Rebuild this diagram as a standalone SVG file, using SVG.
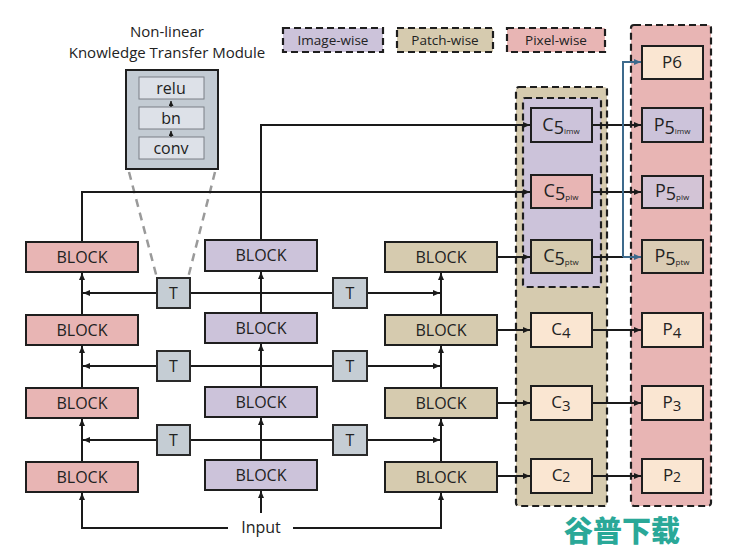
<svg xmlns="http://www.w3.org/2000/svg" width="740" height="552" viewBox="0 0 740 552">
<defs>
<marker id="ah" markerUnits="userSpaceOnUse" markerWidth="8" markerHeight="7" refX="7" refY="3" orient="auto"><path d="M0,0 L7,3 L0,6 z" fill="#1a1a1a"/></marker>
<marker id="ahb" markerUnits="userSpaceOnUse" markerWidth="8" markerHeight="7" refX="7" refY="3" orient="auto"><path d="M0,0 L7,3 L0,6 z" fill="#3d6a8c"/></marker>
<marker id="ahs" markerUnits="userSpaceOnUse" markerWidth="6" markerHeight="6" refX="5" refY="2.5" orient="auto"><path d="M0,0 L5,2.5 L0,5 z" fill="#1a1a1a"/></marker>
</defs>
<style>
text{font-family:"Open Sans","Noto Sans","Liberation Sans",sans-serif;fill:#222;}
.lbl{font-size:15px;text-anchor:middle;}
.blk{font-size:16px;text-anchor:middle;}
.box{stroke:#1e1e1e;stroke-width:2;}
.pink{fill:#e8b5b4;}
.lav{fill:#ccc3da;}
.tan{fill:#d6cbaf;}
.cream{fill:#fae6d2;}
.tb{fill:#c5cdd4;stroke:#2a2a2a;stroke-width:2;}
.dash{stroke:#1e1e1e;stroke-width:2.2;stroke-dasharray:7 4;}
.ln{fill:none;stroke:#1a1a1a;stroke-width:2;}
.ar{marker-end:url(#ah);}
.blue{fill:none;stroke:#3d6a8c;stroke-width:2;marker-end:url(#ahb);}
.sub{font-size:8px;}
</style>

<!-- legend -->
<g id="legend">
<rect x="283" y="28" width="100" height="24" class="lav dash"/>
<text x="333" y="45" class="lbl" style="font-size:13.5px">Image-wise</text>
<rect x="397" y="28" width="96" height="24" class="tan dash"/>
<text x="445" y="45" class="lbl" style="font-size:13.5px">Patch-wise</text>
<rect x="507" y="28" width="98" height="24" class="pink dash"/>
<text x="556" y="45" class="lbl" style="font-size:13.5px">Pixel-wise</text>
</g>

<!-- module -->
<g id="module">
<text x="167" y="37" class="lbl">Non-linear</text>
<text x="167" y="58" class="lbl">Knowledge Transfer Module</text>
<rect x="126" y="70" width="92" height="99" fill="#c3cbd3" stroke="#1e1e1e" stroke-width="2"/>
<rect x="139" y="77" width="65" height="22" fill="#dde1e8" stroke="#7a7f86" stroke-width="1"/>
<text x="171" y="94" class="blk">relu</text>
<rect x="139" y="107" width="65" height="22" fill="#dde1e8" stroke="#7a7f86" stroke-width="1"/>
<text x="171" y="124" class="blk">bn</text>
<rect x="139" y="137" width="65" height="22" fill="#dde1e8" stroke="#7a7f86" stroke-width="1"/>
<text x="171" y="154" class="blk">conv</text>
<path d="M171 137 V131" fill="none" stroke="#1a1a1a" stroke-width="1.3" marker-end="url(#ahs)"/>
<path d="M171 107 V101" fill="none" stroke="#1a1a1a" stroke-width="1.3" marker-end="url(#ahs)"/>
<path d="M129 172 L157 278 M215 172 L188 278" fill="none" stroke="#9a9a9a" stroke-width="2.5" stroke-dasharray="8 6"/>
</g>

<!-- panels -->
<g id="patch-panel"><rect x="516" y="87" width="91" height="419" rx="3" class="tan dash"/></g>
<g id="image-panel"><rect x="523" y="98" width="78" height="189" rx="2" class="lav dash"/></g>
<g id="pixel-panel"><rect x="631" y="25" width="80" height="481" rx="3" class="pink dash"/></g>

<!-- connectors -->
<g id="connectors">
<path class="ln ar" d="M228 528 H82 V493"/>
<path class="ln ar" d="M82 462 V419"/>
<path class="ln ar" d="M82 388 V346"/>
<path class="ln ar" d="M82 315 V273"/>
<path class="ln ar" d="M82 242 V192 H530"/>
<path class="ln ar" d="M261 513 V491"/>
<path class="ln ar" d="M261 460 V418"/>
<path class="ln ar" d="M261 387 V344"/>
<path class="ln ar" d="M261 314 V272"/>
<path class="ln ar" d="M261 240 V125 H530"/>
<path class="ln ar" d="M293 528 H441 V493"/>
<path class="ln ar" d="M441 462 V419"/>
<path class="ln ar" d="M441 388 V346"/>
<path class="ln ar" d="M441 315 V273"/>
<path class="ln ar" d="M497 257 H530"/>
<path class="ln ar" d="M497 330 H530"/>
<path class="ln ar" d="M497 403 H530"/>
<path class="ln ar" d="M497 476 H530"/>
<path class="ln ar" d="M157 293 H83"/>
<path class="ln" d="M190 293 H333"/>
<path class="ln ar" d="M367 293 H440"/>
<path class="ln ar" d="M157 366 H83"/>
<path class="ln" d="M190 366 H333"/>
<path class="ln ar" d="M367 366 H440"/>
<path class="ln ar" d="M157 440 H83"/>
<path class="ln" d="M190 440 H333"/>
<path class="ln ar" d="M367 440 H440"/>
<path class="ln ar" d="M592 125 H641"/>
<path class="ln ar" d="M592 192 H641"/>
<path class="ln" d="M592 257 H623"/>
<path class="ln ar" d="M592 330 H641"/>
<path class="ln ar" d="M592 403 H641"/>
<path class="ln ar" d="M592 476 H641"/>
<path class="blue" d="M623 257 H641"/>
<path class="blue" d="M623 257 V62 H641"/>
</g>

<!-- left column -->
<g id="L1"><rect x="26" y="242" width="112" height="30" class="pink box"/><text x="82" y="263" class="blk">BLOCK</text></g>
<g id="L2"><rect x="26" y="315" width="112" height="30" class="pink box"/><text x="82" y="336" class="blk">BLOCK</text></g>
<g id="L3"><rect x="26" y="388" width="112" height="30" class="pink box"/><text x="82" y="409" class="blk">BLOCK</text></g>
<g id="L4"><rect x="26" y="462" width="112" height="30" class="pink box"/><text x="82" y="483" class="blk">BLOCK</text></g>
<!-- middle column -->
<g id="M1"><rect x="205" y="240" width="112" height="31" class="lav box"/><text x="261" y="261" class="blk">BLOCK</text></g>
<g id="M2"><rect x="205" y="313" width="112" height="30" class="lav box"/><text x="261" y="334" class="blk">BLOCK</text></g>
<g id="M3"><rect x="205" y="387" width="112" height="30" class="lav box"/><text x="261" y="408" class="blk">BLOCK</text></g>
<g id="M4"><rect x="205" y="460" width="112" height="30" class="lav box"/><text x="261" y="481" class="blk">BLOCK</text></g>
<!-- right column -->
<g id="R1"><rect x="385" y="242" width="112" height="30" class="tan box"/><text x="441" y="263" class="blk">BLOCK</text></g>
<g id="R2"><rect x="385" y="315" width="112" height="30" class="tan box"/><text x="441" y="336" class="blk">BLOCK</text></g>
<g id="R3"><rect x="385" y="388" width="112" height="30" class="tan box"/><text x="441" y="409" class="blk">BLOCK</text></g>
<g id="R4"><rect x="385" y="462" width="112" height="30" class="tan box"/><text x="441" y="483" class="blk">BLOCK</text></g>

<!-- T boxes -->
<g id="T1"><rect x="157" y="278" width="33" height="30" class="tb"/><text x="173.5" y="299" class="blk">T</text></g>
<g id="T2"><rect x="333" y="278" width="34" height="30" class="tb"/><text x="350" y="299" class="blk">T</text></g>
<g id="T3"><rect x="157" y="351" width="33" height="30" class="tb"/><text x="173.5" y="372" class="blk">T</text></g>
<g id="T4"><rect x="333" y="351" width="34" height="30" class="tb"/><text x="350" y="372" class="blk">T</text></g>
<g id="T5"><rect x="157" y="425" width="33" height="30" class="tb"/><text x="173.5" y="446" class="blk">T</text></g>
<g id="T6"><rect x="333" y="425" width="34" height="30" class="tb"/><text x="350" y="446" class="blk">T</text></g>

<g id="input"><text x="261" y="533" class="blk">Input</text></g>

<!-- C nodes -->
<g id="C5imw"><rect x="531" y="108" width="61" height="34" class="lav box"/><text x="561" y="131" class="lbl" style="font-size:18px">C<tspan dy="3">5</tspan><tspan class="sub" dy="0">imw</tspan></text></g>
<g id="C5piw"><rect x="531" y="175" width="61" height="33" class="pink box"/><text x="561" y="197" class="lbl" style="font-size:18px">C<tspan dy="3">5</tspan><tspan class="sub">piw</tspan></text></g>
<g id="C5ptw"><rect x="531" y="240" width="61" height="33" class="tan box"/><text x="561" y="262" class="lbl" style="font-size:18px">C<tspan dy="3">5</tspan><tspan class="sub">ptw</tspan></text></g>
<g id="C4"><rect x="531" y="313" width="61" height="34" class="cream box"/><text x="561" y="335" class="lbl" style="font-size:17px">C<tspan dy="3" style="font-size:15px">4</tspan></text></g>
<g id="C3"><rect x="531" y="386" width="61" height="34" class="cream box"/><text x="561" y="408" class="lbl" style="font-size:17px">C<tspan dy="3" style="font-size:15px">3</tspan></text></g>
<g id="C2"><rect x="531" y="459" width="61" height="34" class="cream box"/><text x="561" y="481" class="lbl" style="font-size:17px">C<tspan dy="1" style="font-size:14px">2</tspan></text></g>

<!-- P nodes -->
<g id="P6"><rect x="642" y="46" width="61" height="33" class="cream box"/><text x="672" y="68" class="lbl" style="font-size:17px">P6</text></g>
<g id="P5imw"><rect x="642" y="108" width="61" height="34" class="lav box"/><text x="672" y="131" class="lbl" style="font-size:18px">P<tspan dy="3">5</tspan><tspan class="sub">imw</tspan></text></g>
<g id="P5piw"><rect x="642" y="176" width="61" height="32" fill="#d3c4d6" class="box"/><text x="672" y="197" class="lbl" style="font-size:18px">P<tspan dy="3">5</tspan><tspan class="sub">piw</tspan></text></g>
<g id="P5ptw"><rect x="642" y="240" width="61" height="33" fill="#dbccb4" class="box"/><text x="672" y="262" class="lbl" style="font-size:18px">P<tspan dy="3">5</tspan><tspan class="sub">ptw</tspan></text></g>
<g id="P4"><rect x="642" y="313" width="61" height="34" class="cream box"/><text x="672" y="335" class="lbl" style="font-size:17px">P<tspan dy="3" style="font-size:15px">4</tspan></text></g>
<g id="P3"><rect x="642" y="386" width="61" height="34" class="cream box"/><text x="672" y="408" class="lbl" style="font-size:17px">P<tspan dy="3" style="font-size:15px">3</tspan></text></g>
<g id="P2"><rect x="642" y="459" width="61" height="34" class="cream box"/><text x="672" y="481" class="lbl" style="font-size:17px">P<tspan dy="1" style="font-size:14px">2</tspan></text></g>

<g id="watermark"><text x="622" y="542" text-anchor="middle" style="font-family:'Noto Sans CJK SC',sans-serif;font-size:29px;font-weight:900;fill:#2aa898">谷普下载</text></g>
</svg>
